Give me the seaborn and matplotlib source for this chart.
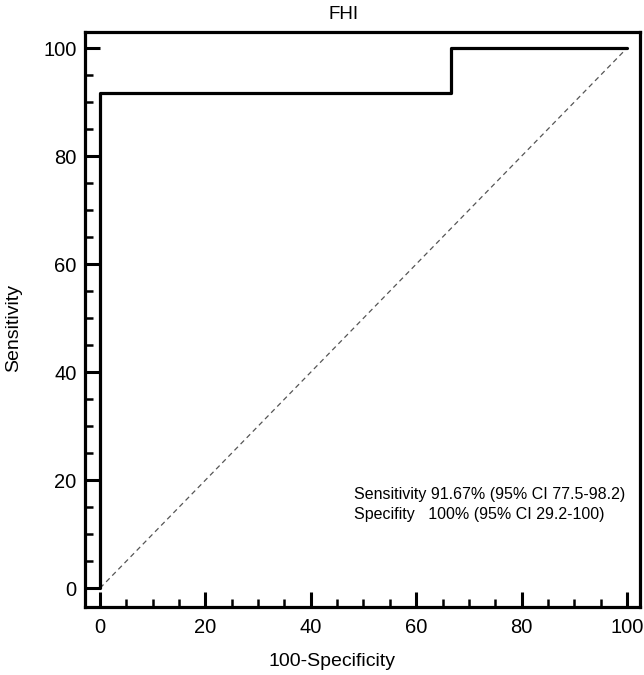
import pandas as pd
import numpy as np
import matplotlib
matplotlib.use('Agg')
import matplotlib.pyplot as plt
import seaborn as sns
from matplotlib.ticker import MultipleLocator

# ROC curve points (100-Specificity, Sensitivity)
fpr = [0, 0, 66.67, 66.67, 100]
tpr = [0, 91.67, 91.67, 100, 100]
diag = [0, 100]
title = 'FHI'
note = ['Sensitivity 91.67% (95% CI 77.5-98.2)', 'Specifity   100% (95% CI 29.2-100)']

sns.set_style('ticks')
plt.rcParams['font.family'] = ['Liberation Sans', 'DejaVu Sans']
plt.rcParams['text.color'] = 'black'
plt.rcParams['axes.labelcolor'] = 'black'
plt.rcParams['xtick.color'] = 'black'
plt.rcParams['ytick.color'] = 'black'

roc = pd.DataFrame({'x': fpr, 'y': tpr})

fig = plt.figure(figsize=(6.44, 6.75), dpi=100)
ax = fig.add_axes([0.132, 0.1007, 0.862, 0.852])

sns.lineplot(x=diag, y=diag, ax=ax, color='#555555', lw=0.9, linestyle=(0, (4, 3)))
sns.lineplot(data=roc, x='x', y='y', sort=False, estimator=None, ax=ax,
             color='black', lw=2.3)

ax.set_xlim(-2.85, 102.5)
ax.set_ylim(-3.5, 103)
ax.xaxis.set_major_locator(MultipleLocator(20))
ax.xaxis.set_minor_locator(MultipleLocator(5))
ax.yaxis.set_major_locator(MultipleLocator(20))
ax.yaxis.set_minor_locator(MultipleLocator(5))
ax.tick_params(which='major', direction='in', length=11, width=2.2, labelsize=14.5, pad=6)
ax.tick_params(axis='x', which='major', pad=8)
ax.tick_params(which='minor', direction='in', length=5.5, width=1.8)
for s in ax.spines.values():
    s.set_linewidth(2.3)
    s.set_color('black')

ax.set_title(title, fontsize=13.5, x=0.465, pad=9)
ax.set_xlabel('100-Specificity', fontsize=14)
ax.set_ylabel('Sensitivity', fontsize=14)
ax.xaxis.set_label_coords(0.445, -0.08)
ax.yaxis.set_label_coords(-0.113, 0.485)

ax.text(48.2, 16.0, note[0], fontsize=11.5, va='bottom')
ax.text(48.2, 12.3, note[1], fontsize=11.5, va='bottom')

fig.savefig('out.png', dpi=100)
